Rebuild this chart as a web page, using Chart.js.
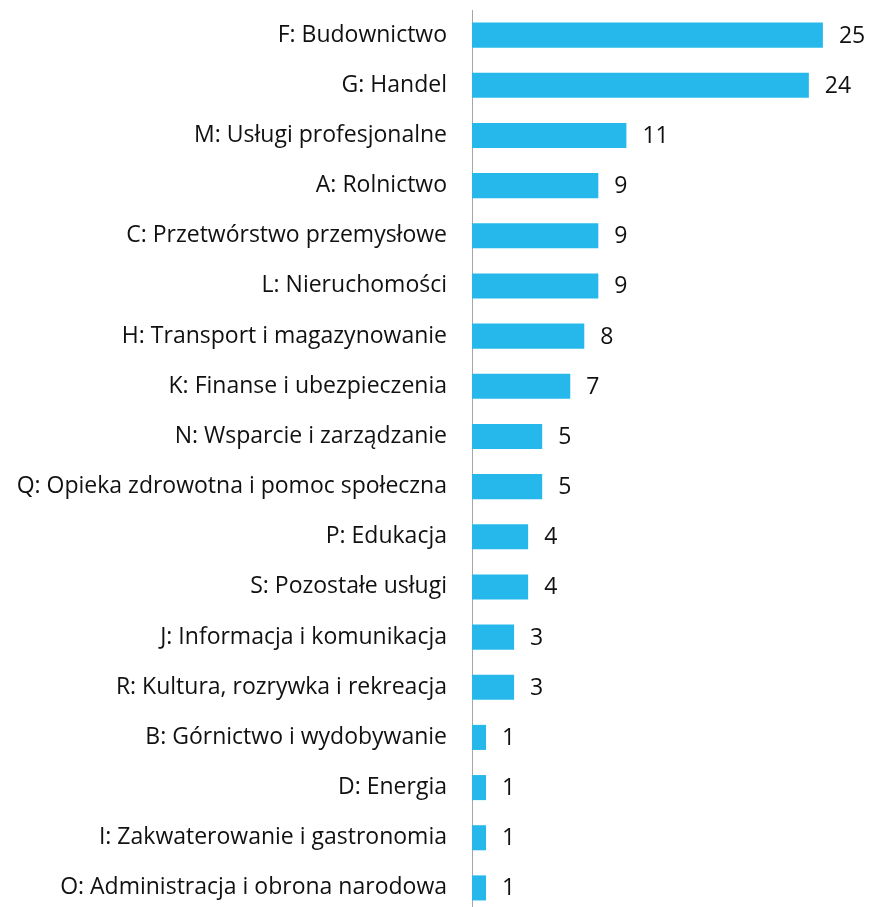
<!DOCTYPE html>
<html>
<head>
<meta charset="utf-8">
<script src="https://cdn.jsdelivr.net/npm/chart.js@4.4.1/dist/chart.umd.min.js"></script>
<style>
  html, body { margin: 0; padding: 0; background: #fff; overflow: hidden; }
</style>
</head>
<body>
<canvas id="sector-chart" width="869" height="913"></canvas>
<script>
// Sector categories (top to bottom)
const sectors = [
  "F: Budownictwo",
  "G: Handel",
  "M: Usługi profesjonalne",
  "A: Rolnictwo",
  "C: Przetwórstwo przemysłowe",
  "L: Nieruchomości",
  "H: Transport i magazynowanie",
  "K: Finanse i ubezpieczenia",
  "N: Wsparcie i zarządzanie",
  "Q: Opieka zdrowotna i pomoc społeczna",
  "P: Edukacja",
  "S: Pozostałe usługi",
  "J: Informacja i komunikacja",
  "R: Kultura, rozrywka i rekreacja",
  "B: Górnictwo i wydobywanie",
  "D: Energia",
  "I: Zakwaterowanie i gastronomia",
  "O: Administracja i obrona narodowa"
];

const counts = [25, 24, 11, 9, 9, 9, 8, 7, 5, 5, 4, 4, 3, 3, 1, 1, 1, 1];

const BAR_COLOR = "#27B8EB";
const TEXT_COLOR = "#111";
const FONT = "'Open Sans', Lato, sans-serif";
const FONT_SIZE = 23;

// draws value labels to the right of each bar
const valueLabels = {
  id: "valueLabels",
  afterDatasetsDraw(chart) {
    const ctx = chart.ctx;
    const meta = chart.getDatasetMeta(0);
    ctx.save();
    ctx.font = FONT_SIZE + "px " + FONT;
    ctx.fillStyle = TEXT_COLOR;
    ctx.textAlign = "left";
    ctx.textBaseline = "middle";
    meta.data.forEach((bar, i) => {
      ctx.fillText(String(counts[i]), bar.x + 16, bar.y + 1);
    });
    ctx.restore();
  }
};

const ctx = document.getElementById("sector-chart").getContext("2d");

new Chart(ctx, {
  type: "bar",
  data: {
    labels: sectors,
    datasets: [{
      data: counts,
      backgroundColor: BAR_COLOR,
      borderWidth: 0,
      barPercentage: 0.5,
      categoryPercentage: 1.0
    }]
  },
  options: {
    indexAxis: "y",
    responsive: false,
    animation: false,
    layout: { padding: { top: 10, right: 4, bottom: 0, left: 0 } },
    plugins: {
      legend: { display: false },
      tooltip: { enabled: false }
    },
    scales: {
      x: {
        display: false,
        min: 0,
        max: 28
      },
      y: {
        afterFit: (scale) => {
          scale.width = 472;
          scale.paddingTop = 0;
          scale.paddingBottom = 0;
        },
        grid: { display: false, drawTicks: false },
        border: { display: true, color: "#a6a6a6", width: 1 },
        ticks: {
          color: TEXT_COLOR,
          padding: 25,
          font: { family: FONT, size: FONT_SIZE }
        }
      }
    }
  },
  plugins: [valueLabels]
});
</script>
</body>
</html>
